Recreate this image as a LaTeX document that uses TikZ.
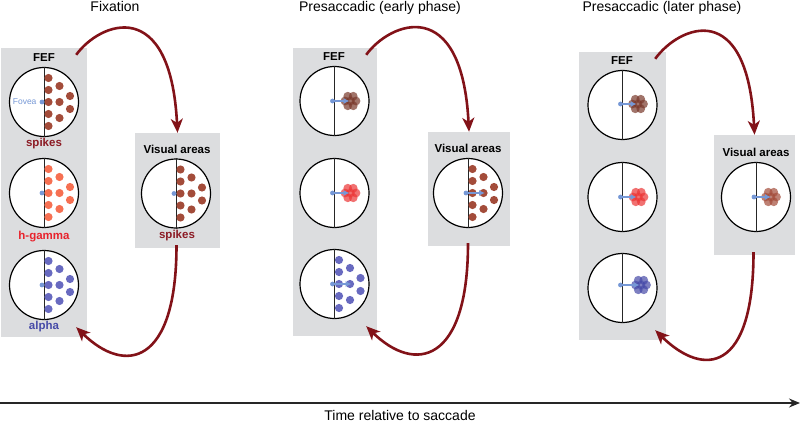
\documentclass[tikz,border=0pt]{standalone}
\usepackage{fontspec}
\setmainfont{Liberation Sans}
\usetikzlibrary{arrows.meta,calc}

\definecolor{panelgrey}{RGB}{220,221,223}
\definecolor{spikedot}{RGB}{163,76,58}
\definecolor{spikered}{RGB}{140,26,36}
\definecolor{gammadot}{RGB}{246,112,82}
\definecolor{gammared}{RGB}{232,35,45}
\definecolor{alphadot}{RGB}{104,106,192}
\definecolor{alphablue}{RGB}{70,74,168}
\definecolor{foveablue}{RGB}{118,152,214}
\definecolor{loopred}{RGB}{130,18,24}

\newcommand{\tendots}[2]{%
    \foreach \dx/\dy in {4.5/-24,4.5/-12,4.5/0,4.5/12,4.5/24,15.5/-16,15.5/0,15.5/16,26/-6,26/7}
        \fill[#2, shift={(#1.center)}] (\dx, \dy) circle (4.1);}
\newcommand{\clump}[4]{%
    \foreach \a in {0,60,...,300}
        \fill[#2, fill opacity=.7, shift={(#1.center)}] (#3, #4) ++(\a:5.5) circle (4.4);
    \fill[#2, fill opacity=.7, shift={(#1.center)}] (#3, #4) circle (4.4);}
\newcommand{\fovdot}[1]{\fill[foveablue, shift={(#1.center)}] (-2, 0) circle (2.4);}
\newcommand{\saccvec}[3]{%
    \fill[foveablue, shift={(#1.center)}] (-2, #3) circle (2.4);
    \draw[foveablue, line width=1.5pt, -{Latex[length=6pt, width=6pt]}, shift={(#1.center)}] (-2, #3) -- (#2, #3);}

\begin{document}
\begin{tikzpicture}[x=1pt, y=-1pt,
    greypanel/.style={fill=panelgrey, inner sep=0pt},
    eyefield/.style={circle, draw, fill=white, line width=1.2pt, minimum size=69pt, inner sep=0pt},
    feedback/.style={draw=loopred, line width=2.6pt, -{Stealth[length=14pt, width=12pt, inset=4pt]}},
    heading/.style={anchor=base, font=\fontsize{14}{16}\selectfont},
    arealabel/.style={anchor=base, font=\bfseries\fontsize{11.5}{13}\selectfont},
    ]
    \useasboundingbox (0, 0) rectangle (800, 425);

    % panels
    \node[greypanel, minimum width=86pt, minimum height=289pt] (fefA) at (44, 192.5) {};
    \node[greypanel, minimum width=85pt, minimum height=115pt] (visA) at (177.5, 190.5) {};
    \node[greypanel, minimum width=84pt, minimum height=288pt] (fefB) at (335, 192) {};
    \node[greypanel, minimum width=82pt, minimum height=114pt] (visB) at (469, 189) {};
    \node[greypanel, minimum width=87pt, minimum height=288pt] (fefC) at (622.5, 196) {};
    \node[greypanel, minimum width=81pt, minimum height=120pt] (visC) at (754.5, 195) {};

    \node[heading] (tA) at (115, 11.5) {Fixation};
    \node[heading] (tB) at (380, 11.5) {Presaccadic (early phase)};
    \node[heading] (tC) at (662, 11.5) {Presaccadic (later phase)};

    \node[arealabel] (fefAlab) at (44, 62) {FEF};
    \node[arealabel] (fefBlab) at (334, 60.5) {FEF};
    \node[arealabel] (fefClab) at (622, 65) {FEF};
    \node[arealabel] (visAlab) at (177, 153.5) {Visual areas};
    \node[arealabel] (visBlab) at (468, 152) {Visual areas};
    \node[arealabel] (visClab) at (756, 156) {Visual areas};

    % visual fields
    \foreach \n/\y in {1/102, 2/193, 3/285}
        \node[eyefield] (fA\n) at (44, \y) {};
    \foreach \n/\y in {1/101, 2/193, 3/284}
        \node[eyefield] (fB\n) at (334.5, \y) {};
    \foreach \n/\y in {1/105, 2/197, 3/288}
        \node[eyefield] (fC\n) at (622.5, \y) {};
    \node[eyefield] (vA) at (176, 193.5) {};
    \node[eyefield] (vB) at (468, 193) {};
    \node[eyefield] (vC) at (756, 197) {};
    \foreach \c in {fA1,fA2,fA3,fB1,fB2,fB3,fC1,fC2,fC3,vA,vB,vC}
        \draw[line width=0.9pt, black!85] (\c.north) -- (\c.south);

    % fixation
    \tendots{fA1}{spikedot} \fovdot{fA1}
    \tendots{fA2}{gammadot} \fovdot{fA2}
    \tendots{fA3}{alphadot} \fovdot{fA3}
    \tendots{vA}{spikedot}  \fovdot{vA}
    \node[anchor=east, foveablue, font=\fontsize{8.5}{10}\selectfont] (fovlab) at ($(fA1.center)+(-4, 0)$) {Fovea};
    \node[arealabel, spikered] (spkA) at (44, 146.5) {spikes};
    \node[arealabel, gammared] (gamA) at (44, 239) {h-gamma};
    \node[arealabel, alphablue] (alpA) at (44, 329) {alpha};
    \node[arealabel, spikered] (spkV) at (177, 238.5) {spikes};

    % early phase
    \clump{fB1}{spikedot!75!black}{16}{0} \saccvec{fB1}{15}{0}
    \clump{fB2}{gammared!75!gammadot}{16}{0} \saccvec{fB2}{15}{0}
    \tendots{fB3}{alphadot} \saccvec{fB3}{17}{0}
    \tendots{vB}{spikedot}  \saccvec{vB}{17}{0}

    % later phase
    \clump{fC1}{spikedot!75!black}{15.5}{-1} \saccvec{fC1}{14}{-1}
    \clump{fC2}{gammared!75!gammadot}{16}{0} \saccvec{fC2}{14}{0}
    \clump{fC3}{alphablue}{18.5}{-3} \saccvec{fC3}{17}{-3}
    \clump{vC}{spikedot}{15}{0} \saccvec{vC}{15}{0}

    % loops
    \draw[feedback] ($(fefA.north east)+(-11, 7)$) .. controls +(24, -33) and +(-7, -138) .. (visA.north);
    \draw[feedback] ($(visA.south)+(-1, -3)$) .. controls +(0, 120) and +(49, 48) .. ($(fefA.south east)+(-11, -10)$);
    \draw[feedback] ($(fefB.north east)+(-11, 7)$) .. controls +(24, -33) and +(-7, -138) .. (visB.north);
    \draw[feedback] ($(visB.south)+(-1, -3)$) .. controls +(0, 120) and +(49, 48) .. ($(fefB.south east)+(-11, -10)$);
    \draw[feedback] ($(fefC.north east)+(-11, 7)$) .. controls +(24, -33) and +(-7, -138) .. (visC.north);
    \draw[feedback] ($(visC.south)+(-1, -3)$) .. controls +(0, 120) and +(49, 48) .. ($(fefC.south east)+(-11, -10)$);

    % time axis
    \coordinate (t0) at (0, 403);
    \coordinate (t1) at (800, 403);
    \draw[line width=1.3pt, black!85, -{Stealth[length=11pt, width=9pt]}] (t0) -- (t1);
    \node[heading] (tlab) at (400, 420) {Time relative to saccade};
\end{tikzpicture}
\end{document}
